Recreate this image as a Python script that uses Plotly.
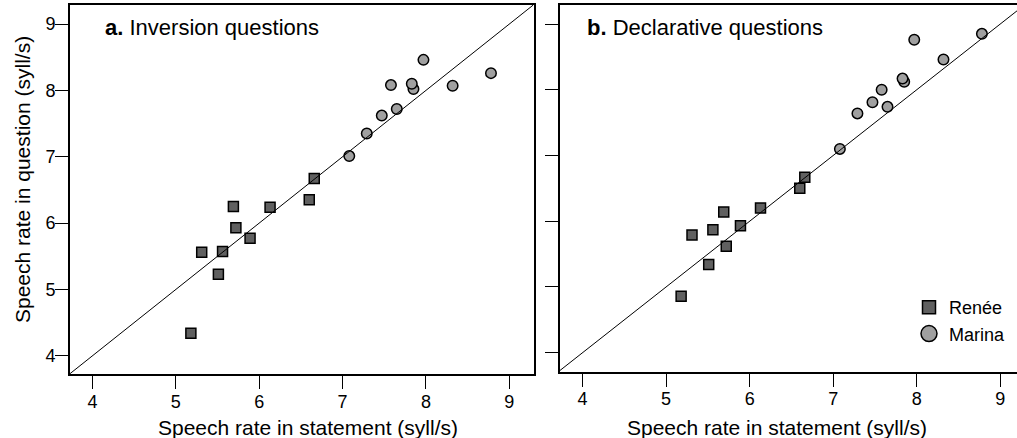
import plotly.graph_objects as go

# ---- data (syll/s) ----
statement_renee = [5.18, 5.31, 5.51, 5.56, 5.69, 5.72, 5.89, 6.13, 6.60, 6.66]
inversion_renee = [4.34, 5.56, 5.23, 5.57, 6.25, 5.93, 5.77, 6.24, 6.35, 6.67]
declarative_renee = [4.86, 5.79, 5.34, 5.87, 6.14, 5.62, 5.93, 6.20, 6.50, 6.67]

statement_marina = [7.08, 7.29, 7.47, 7.58, 7.65, 7.85, 7.83, 7.97, 8.32, 8.78]
inversion_marina = [7.01, 7.35, 7.62, 8.08, 7.72, 8.02, 8.10, 8.46, 8.07, 8.26]
declarative_marina = [7.10, 7.64, 7.81, 8.00, 7.74, 8.12, 8.17, 8.76, 8.46, 8.85]

tick_values = [4, 5, 6, 7, 8, 9]
speakers = ["Renée", "Marina"]
panel_titles = ["a.", "Inversion questions", "b.", "Declarative questions"]
x_title = "Speech rate in statement (syll/s)"
y_title = "Speech rate in question (syll/s)"

# ---- axis ranges ----
xr_a = [3.73, 9.29]
yr_a = [3.725, 9.287]
xr_b = [3.73, 9.20]
yr_b = [3.714, 9.289]

FONT = "Liberation Sans, Arial, Helvetica, sans-serif"
SQ_FILL = "#606060"
CI_FILL = "#a0a0a0"

fig = go.Figure()

sq_marker = dict(symbol="square", size=10, color=SQ_FILL, line=dict(color="black", width=1.5))
ci_marker = dict(symbol="circle", size=10.5, color=CI_FILL, line=dict(color="black", width=1.5))

fig.add_trace(go.Scatter(x=statement_renee, y=inversion_renee, mode="markers",
                         marker=sq_marker, showlegend=False, xaxis="x", yaxis="y"))
fig.add_trace(go.Scatter(x=statement_marina, y=inversion_marina, mode="markers",
                         marker=ci_marker, showlegend=False, xaxis="x", yaxis="y"))
fig.add_trace(go.Scatter(x=statement_renee, y=declarative_renee, mode="markers",
                         marker=sq_marker, showlegend=False, xaxis="x2", yaxis="y2"))
fig.add_trace(go.Scatter(x=statement_marina, y=declarative_marina, mode="markers",
                         marker=ci_marker, showlegend=False, xaxis="x2", yaxis="y2"))

# legend-only entries (larger symbols as in the reference legend)
fig.add_trace(go.Scatter(x=[None], y=[None], mode="markers", name=speakers[0],
                         marker=dict(symbol="square", size=13, color=SQ_FILL,
                                     line=dict(color="black", width=1.5)),
                         xaxis="x2", yaxis="y2"))
fig.add_trace(go.Scatter(x=[None], y=[None], mode="markers", name=speakers[1],
                         marker=dict(symbol="circle", size=16, color=CI_FILL,
                                     line=dict(color="black", width=1.5)),
                         xaxis="x2", yaxis="y2"))

# identity lines
lo_a, hi_a = max(xr_a[0], yr_a[0]), min(xr_a[1], yr_a[1])
lo_b, hi_b = max(xr_b[0], yr_b[0]), min(xr_b[1], yr_b[1])
fig.add_shape(type="line", xref="x", yref="y", x0=lo_a, y0=lo_a, x1=hi_a, y1=hi_a,
              line=dict(color="black", width=1))
fig.add_shape(type="line", xref="x2", yref="y2", x0=lo_b, y0=lo_b, x1=hi_b, y1=hi_b,
              line=dict(color="black", width=1))

W, H = 1017, 438
ML, MR, MT, MB = 70, 0, 5, 64
PW = W - ML - MR
PH = H - MT - MB


def px_x(p):
    return (p - ML) / PW


def px_y(p):
    return (H - MB - p) / PH


axis_common = dict(showline=True, linewidth=2, linecolor="black", ticks="outside",
                   ticklen=13, tickwidth=1, tickcolor="black", showgrid=False,
                   zeroline=False, tickvals=tick_values,
                   tickfont=dict(size=18, color="black", family=FONT))

fig.update_layout(
    width=W, height=H,
    margin=dict(l=ML, r=MR, t=MT, b=MB),
    paper_bgcolor="white", plot_bgcolor="white",
    font=dict(family=FONT, color="black"),
    xaxis=dict(axis_common, domain=[0, px_x(533.5)], range=xr_a, mirror=True, anchor="y",
               ticklabelstandoff=-3),
    yaxis=dict(axis_common, domain=[0, 1], range=yr_a, mirror=True, anchor="x",
               ticklabelstandoff=-4),
    xaxis2=dict(axis_common, domain=[px_x(560), 1], range=xr_b, mirror=True, anchor="y2",
                ticklabelstandoff=-3),
    yaxis2=dict(axis_common, domain=[px_y(371.5), 1], range=yr_b, mirror=False,
                showticklabels=False, anchor="x2"),
    legend=dict(x=px_x(909), y=px_y(289), xanchor="left", yanchor="top",
                font=dict(size=18, family=FONT, color="black"),
                bgcolor="rgba(0,0,0,0)", tracegroupgap=0, itemwidth=30),
    showlegend=True,
)

annos = [
    dict(text="<b>%s</b> %s" % (panel_titles[0], panel_titles[1]), x=px_x(103), y=px_y(27.5),
         xanchor="left", yanchor="middle", font=dict(size=22)),
    dict(text="<b>%s</b> %s" % (panel_titles[2], panel_titles[3]), x=px_x(585), y=px_y(27.5),
         xanchor="left", yanchor="middle", font=dict(size=22)),
    dict(text=x_title, x=px_x(308), y=px_y(427), xanchor="center", yanchor="middle",
         font=dict(size=21)),
    dict(text=x_title, x=px_x(777), y=px_y(427), xanchor="center", yanchor="middle",
         font=dict(size=21)),
    dict(text=y_title, x=px_x(22), y=px_y(180), xanchor="center", yanchor="middle",
         textangle=-90, font=dict(size=21)),
]
for a in annos:
    a.update(xref="paper", yref="paper", showarrow=False)
    a["font"] = dict(a["font"], family=FONT, color="black")
fig.update_layout(annotations=annos)

fig.write_html("out.html",
               config={"displayModeBar": False},
               post_script="document.body.style.margin='0';document.body.style.overflow='hidden';")
